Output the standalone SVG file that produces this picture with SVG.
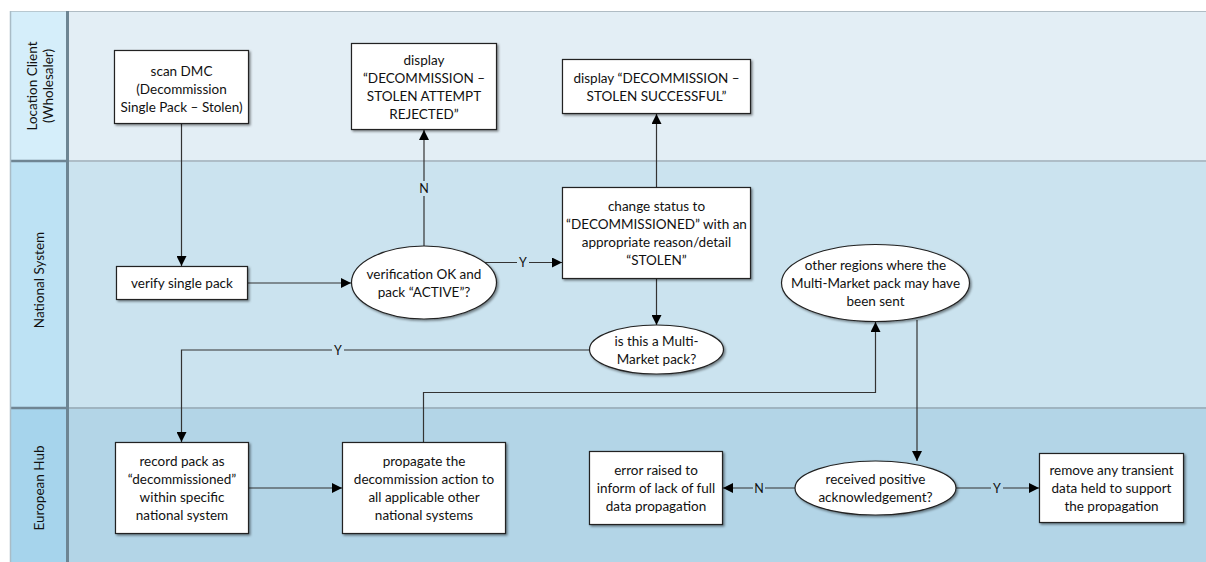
<svg xmlns="http://www.w3.org/2000/svg" width="1206" height="562" viewBox="0 0 1206 562">
  <defs>
    <marker id="arrow" viewBox="0 0 10 10" refX="10" refY="5" markerWidth="10" markerHeight="10" markerUnits="userSpaceOnUse" orient="auto">
      <path d="M0,0 L10,5 L0,10 z" fill="#000"/>
    </marker>
    <filter id="shadow" x="-10%" y="-10%" width="130%" height="130%">
      <feDropShadow dx="1.5" dy="1.5" stdDeviation="0.8" flood-color="#000" flood-opacity="0.45"/>
    </filter>
    <style>
      .box { fill: #fff; stroke: #222; stroke-width: 1.2; filter: url(#shadow); }
      .txt { font-family: Lato, "Open Sans", sans-serif; font-size: 13.5px; fill: #111; text-anchor: middle; }
      .lane { font-family: Lato, "Open Sans", sans-serif; font-size: 13.5px; fill: #111; text-anchor: middle; }
      .conn { fill: none; stroke: #333; stroke-width: 1.2; }
      .lbl { font-family: Lato, "Open Sans", sans-serif; font-size: 12.5px; fill: #111; text-anchor: middle; }
      .lblbg { stroke: none; }
    </style>
  </defs>

  <rect width="1206" height="562" fill="#fff"/>

  <!-- swimlanes -->
  <g id="lanes">
    <rect x="68" y="11" width="1138" height="150" fill="#e3eef5"/>
    <rect x="68" y="161" width="1138" height="247" fill="#cbe3ef"/>
    <rect x="68" y="408" width="1138" height="154" fill="#b3d5e7"/>
    <rect x="10" y="11" width="58" height="150" fill="#d5eefa"/>
    <rect x="10" y="161" width="58" height="247" fill="#bde2f4"/>
    <rect x="10" y="408" width="58" height="154" fill="#a6d4ec"/>
    <!-- borders -->
    <line x1="68" y1="11.5" x2="1206" y2="11.5" stroke="#b0bcc4" stroke-width="1"/>
    <line x1="10" y1="11.5" x2="68" y2="11.5" stroke="#b8c8d0" stroke-width="1"/>
    <line x1="68" y1="161" x2="1206" y2="161" stroke="#aebdc7" stroke-width="2"/>
    <line x1="68" y1="408" x2="1206" y2="408" stroke="#9fb4c0" stroke-width="2"/>
    <line x1="10" y1="161" x2="68" y2="161" stroke="#6f8593" stroke-width="2.5"/>
    <line x1="10" y1="408" x2="68" y2="408" stroke="#6f8593" stroke-width="2.5"/>
    <line x1="10.5" y1="11" x2="10.5" y2="562" stroke="#a9bcc6" stroke-width="1.5"/>
    <line x1="67.5" y1="11" x2="67.5" y2="562" stroke="#6d8593" stroke-width="3"/>
    <text class="lane" transform="translate(37,86) rotate(-90)">Location Client</text>
    <text class="lane" transform="translate(53,86) rotate(-90)">(Wholesaler)</text>
    <text class="lane" transform="translate(44,280) rotate(-90)">National System</text>
    <text class="lane" transform="translate(44,488) rotate(-90)">European Hub</text>
  </g>

  <!-- connectors -->
  <g id="connectors">
    <path class="conn" d="M181.5,123 V266" marker-end="url(#arrow)"/>
    <path class="conn" d="M248,283 H351" marker-end="url(#arrow)"/>
    <path class="conn" d="M424,246 V130" marker-end="url(#arrow)"/>
    <rect class="lblbg" x="418" y="181" width="12" height="15" fill="#cbe3ef"/>
    <text class="lbl" x="424" y="193">N</text>
    <path class="conn" d="M485,262.5 H562" marker-end="url(#arrow)"/>
    <rect class="lblbg" x="517" y="255" width="12" height="15" fill="#cbe3ef"/>
    <text class="lbl" x="523" y="267">Y</text>
    <path class="conn" d="M656.5,187 V114" marker-end="url(#arrow)"/>
    <path class="conn" d="M656.5,279 V325" marker-end="url(#arrow)"/>
    <path class="conn" d="M589,350 H181.5 V442" marker-end="url(#arrow)"/>
    <rect class="lblbg" x="332" y="343" width="12" height="15" fill="#cbe3ef"/>
    <text class="lbl" x="338" y="355">Y</text>
    <path class="conn" d="M249,488 H342" marker-end="url(#arrow)"/>
    <path class="conn" d="M423.5,442 V392.5 H875.5 V322" marker-end="url(#arrow)"/>
    <path class="conn" d="M917,320 V461" marker-end="url(#arrow)"/>
    <path class="conn" d="M795,488 H723" marker-end="url(#arrow)"/>
    <rect class="lblbg" x="753" y="481" width="12" height="15" fill="#b3d5e7"/>
    <text class="lbl" x="759" y="493">N</text>
    <path class="conn" d="M956,488 H1039" marker-end="url(#arrow)"/>
    <rect class="lblbg" x="991" y="481" width="12" height="15" fill="#b3d5e7"/>
    <text class="lbl" x="997" y="493">Y</text>
  </g>

  <!-- nodes -->
  <g id="scan-dmc">
    <rect class="box" x="114.5" y="50.5" width="134" height="73"/>
    <text class="txt" x="181.5" y="76">scan DMC</text>
    <text class="txt" x="181.5" y="94">(Decommission</text>
    <text class="txt" x="181.5" y="112">Single Pack – Stolen)</text>
  </g>

  <g id="display-rejected">
    <rect class="box" x="351.5" y="43.5" width="145" height="86"/>
    <text class="txt" x="424" y="65">display</text>
    <text class="txt" x="424" y="83">“DECOMMISSION –</text>
    <text class="txt" x="424" y="101">STOLEN ATTEMPT</text>
    <text class="txt" x="424" y="119">REJECTED”</text>
  </g>

  <g id="display-successful">
    <rect class="box" x="562.5" y="59.5" width="188" height="54"/>
    <text class="txt" x="656.5" y="83">display “DECOMMISSION –</text>
    <text class="txt" x="656.5" y="101">STOLEN SUCCESSFUL”</text>
  </g>

  <g id="verify-pack">
    <rect class="box" x="116.5" y="266.5" width="131" height="33"/>
    <text class="txt" x="182" y="288">verify single pack</text>
  </g>

  <g id="verification-ok">
    <ellipse class="box" cx="424" cy="282.5" rx="72.5" ry="36.5"/>
    <text class="txt" x="424" y="279">verification OK and</text>
    <text class="txt" x="424" y="297">pack “ACTIVE”?</text>
  </g>

  <g id="change-status">
    <rect class="box" x="562.5" y="187.5" width="188" height="91"/>
    <text class="txt" x="656.5" y="211">change status to</text>
    <text class="txt" x="656.5" y="229">“DECOMMISSIONED” with an</text>
    <text class="txt" x="656.5" y="247">appropriate reason/detail</text>
    <text class="txt" x="656.5" y="265">“STOLEN”</text>
  </g>

  <g id="multi-market">
    <ellipse class="box" cx="656.5" cy="349.5" rx="67" ry="24.5"/>
    <text class="txt" x="656.5" y="346">is this a Multi-</text>
    <text class="txt" x="656.5" y="364">Market pack?</text>
  </g>

  <g id="other-regions">
    <ellipse class="box" cx="875.5" cy="283" rx="94" ry="38.5"/>
    <text class="txt" x="875.5" y="270">other regions where the</text>
    <text class="txt" x="875.5" y="288">Multi-Market pack may have</text>
    <text class="txt" x="875.5" y="306">been sent</text>
  </g>

  <g id="record-pack">
    <rect class="box" x="115.5" y="442.5" width="133" height="91"/>
    <text class="txt" x="182" y="466">record pack as</text>
    <text class="txt" x="182" y="484">“decommissioned”</text>
    <text class="txt" x="182" y="502">within specific</text>
    <text class="txt" x="182" y="520">national system</text>
  </g>

  <g id="propagate">
    <rect class="box" x="342.5" y="442.5" width="163" height="91"/>
    <text class="txt" x="424" y="466">propagate the</text>
    <text class="txt" x="424" y="484">decommission action to</text>
    <text class="txt" x="424" y="502">all applicable other</text>
    <text class="txt" x="424" y="520">national systems</text>
  </g>

  <g id="error-raised">
    <rect class="box" x="589.5" y="451.5" width="133" height="73"/>
    <text class="txt" x="656" y="475">error raised to</text>
    <text class="txt" x="656" y="493">inform of lack of full</text>
    <text class="txt" x="656" y="511">data propagation</text>
  </g>

  <g id="received-ack">
    <ellipse class="box" cx="875.5" cy="488" rx="80.5" ry="27"/>
    <text class="txt" x="875.5" y="484">received positive</text>
    <text class="txt" x="875.5" y="502">acknowledgement?</text>
  </g>

  <g id="remove-transient">
    <rect class="box" x="1039.5" y="453.5" width="144" height="69"/>
    <text class="txt" x="1111.5" y="475">remove any transient</text>
    <text class="txt" x="1111.5" y="493">data held to support</text>
    <text class="txt" x="1111.5" y="511">the propagation</text>
  </g>
</svg>
